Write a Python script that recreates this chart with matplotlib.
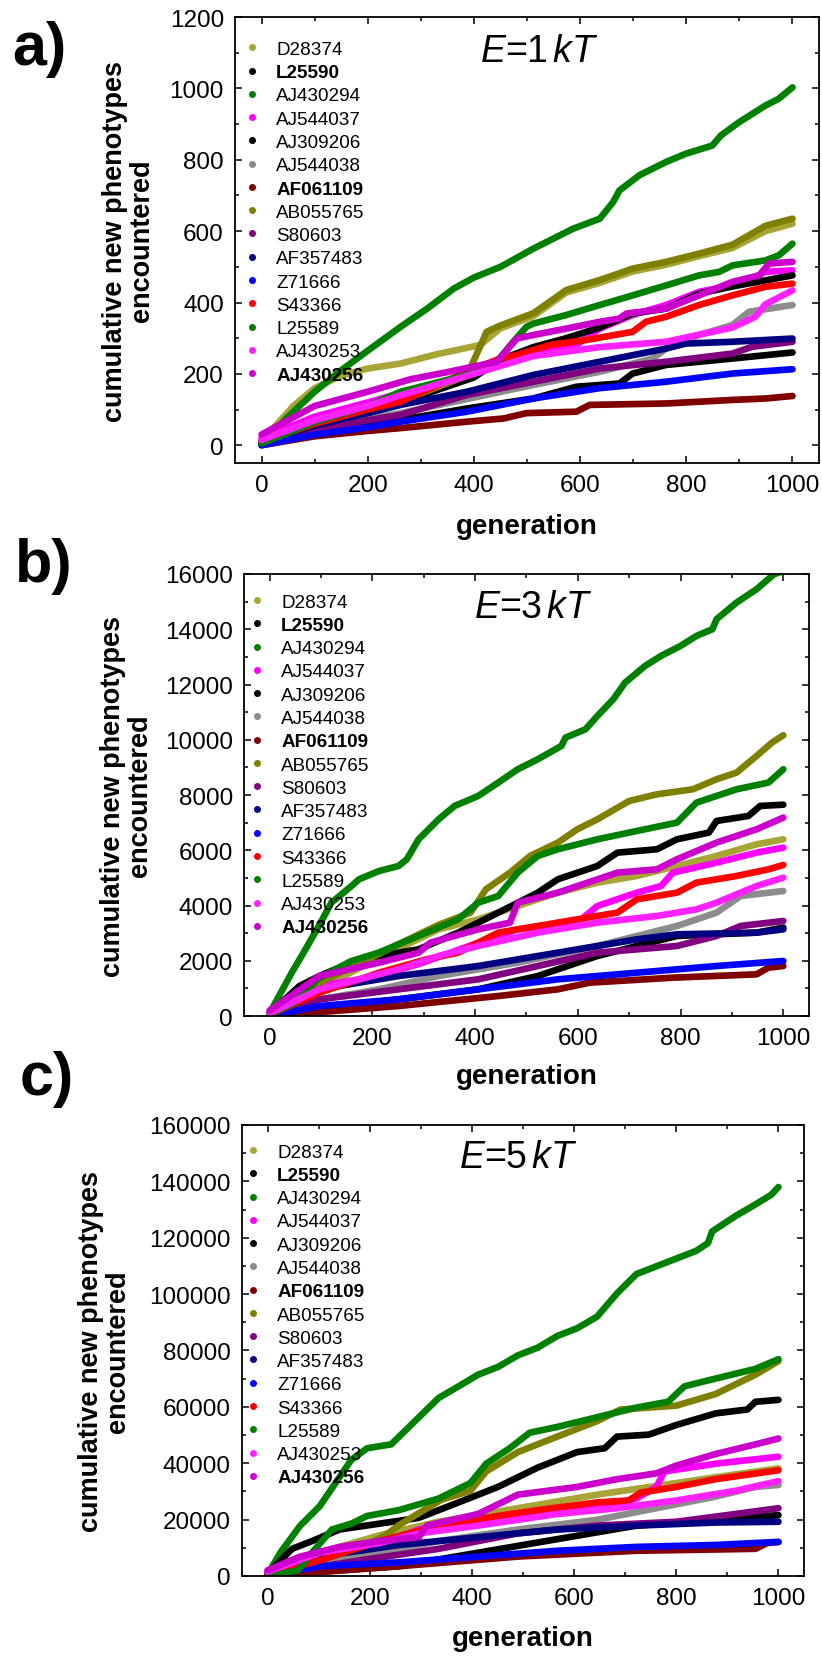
import matplotlib
matplotlib.use('Agg')
import matplotlib.pyplot as plt
from matplotlib.lines import Line2D
from matplotlib.ticker import MultipleLocator

plt.rcParams['font.family'] = ['Liberation Sans', 'DejaVu Sans']
plt.rcParams['mathtext.fontset'] = 'custom'
plt.rcParams['mathtext.rm'] = 'Liberation Sans'
plt.rcParams['mathtext.it'] = 'Liberation Sans:italic'

strains = ['D28374', 'L25590', 'AJ430294', 'AJ544037', 'AJ309206', 'AJ544038', 'AF061109',
           'AB055765', 'S80603', 'AF357483', 'Z71666', 'S43366', 'L25589', 'AJ430253', 'AJ430256']
colors = ['#a8a536', '#000000', '#008000', '#ff00ff', '#000000', '#8c8c8c', '#800000',
          '#808000', '#800080', '#000080', '#0000ff', '#ff0000', '#008000', '#ff22ff', '#cc00cc']
bold_strains = ['L25590', 'AF061109', 'AJ430256']

# (generation, cumulative new phenotypes), E = 1 kT
panel_a = {
    'D28374': [(0, 15), (30, 60), (60, 110), (100, 160), (150, 195), (200, 215), (262, 229), (330, 255),
               (412, 281), (449, 327), (512, 362), (574, 428), (637, 455), (699, 487), (762, 506),
               (824, 530), (887, 553), (949, 600), (1000, 621)],
    'L25590': [(0, 5), (100, 30), (200, 55), (262, 71), (387, 103), (512, 131), (593, 164), (674, 173),
               (699, 201), (762, 225), (887, 243), (1000, 260)],
    'AJ430294': [(0, 5), (50, 80), (100, 150), (150, 210), (200, 265), (262, 332), (312, 383), (362, 439),
                 (400, 470), (450, 500), (512, 551), (587, 607), (637, 635), (662, 681), (674, 714),
                 (712, 757), (762, 794), (799, 817), (849, 840), (865, 868), (899, 905), (949, 952),
                 (974, 971), (1000, 1003)],
    'AJ544037': [(0, 20), (100, 80), (200, 120), (262, 146), (387, 197), (449, 225), (512, 262), (574, 271),
                 (593, 281), (637, 327), (699, 365), (762, 393), (824, 430), (887, 448), (924, 467),
                 (949, 486), (1000, 490)],
    'AJ309206': [(0, 10), (100, 60), (200, 95), (262, 120), (400, 190), (450, 240), (512, 275), (574, 300),
                 (637, 330), (699, 369), (762, 383), (824, 425), (887, 445), (949, 462), (1000, 476)],
    'AJ544038': [(0, 5), (100, 45), (200, 75), (262, 90), (512, 169), (637, 206), (737, 243), (762, 271),
                 (824, 309), (887, 337), (918, 374), (1000, 393)],
    'AF061109': [(0, 0), (100, 25), (200, 40), (262, 48), (387, 66), (456, 75), (499, 90), (593, 94),
                 (618, 113), (762, 117), (887, 127), (949, 131), (1000, 138)],
    'AB055765': [(0, 10), (100, 70), (200, 110), (300, 145), (387, 195), (424, 318), (449, 335), (512, 370),
                 (574, 435), (637, 463), (699, 495), (762, 514), (824, 537), (887, 562), (949, 615),
                 (1000, 635)],
    'S80603': [(0, 5), (100, 40), (200, 70), (262, 85), (387, 141), (512, 178), (637, 215), (762, 234),
               (887, 257), (924, 276), (1000, 290)],
    'AF357483': [(0, 10), (100, 55), (200, 90), (262, 113), (387, 150), (512, 197), (637, 234), (762, 271),
                 (799, 285), (887, 290), (1000, 299)],
    'Z71666': [(0, 0), (100, 30), (200, 50), (262, 66), (387, 94), (512, 131), (637, 160), (762, 178),
               (887, 201), (1000, 213)],
    'S43366': [(0, 10), (100, 60), (200, 100), (262, 122), (387, 206), (449, 243), (481, 253), (543, 281),
               (612, 295), (699, 318), (724, 346), (762, 360), (824, 393), (887, 420), (949, 444),
               (1000, 453)],
    'L25589': [(0, 5), (50, 35), (100, 65), (200, 110), (262, 150), (387, 197), (443, 234), (474, 290),
               (499, 332), (512, 341), (574, 365), (637, 393), (699, 420), (762, 448), (824, 476),
               (862, 486), (887, 504), (949, 518), (974, 532), (1000, 565)],
    'AJ430253': [(0, 15), (100, 70), (200, 110), (262, 140), (400, 200), (512, 250), (637, 275), (762, 290),
                 (887, 330), (930, 360), (949, 395), (1000, 434)],
    'AJ430256': [(0, 30), (100, 110), (200, 150), (281, 185), (350, 205), (443, 234), (481, 299), (512, 309),
                 (574, 327), (637, 346), (674, 355), (687, 369), (762, 383), (824, 420), (887, 458),
                 (937, 476), (956, 509), (1000, 514)],
}

# E = 3 kT
panel_b = {
    'D28374': [(0, 100), (97, 1000), (213, 2100), (329, 3138), (406, 3500), (483, 3983), (561, 4466),
               (638, 4828), (715, 5069), (793, 5431), (870, 5794), (948, 6216), (1000, 6397)],
    'L25590': [(0, 50), (251, 604), (406, 966), (522, 1448), (638, 2173), (715, 2535), (793, 2897),
               (948, 3018), (1000, 3200)],
    'AJ430294': [(0, 100), (4, 241), (43, 1569), (66, 2293), (97, 3300), (120, 4100), (159, 4700),
                 (174, 4949), (213, 5250), (251, 5431), (267, 5673), (290, 6397), (329, 7121), (360, 7604),
                 (406, 7966), (445, 8449), (483, 8932), (522, 9294), (568, 9777), (576, 10078),
                 (615, 10380), (638, 10863), (669, 11466), (692, 12070), (731, 12674), (762, 13036),
                 (800, 13398), (831, 13760), (862, 14001), (870, 14363), (909, 14967), (948, 15450),
                 (982, 15994), (1000, 16100)],
    'AJ544037': [(0, 150), (97, 1086), (213, 1448), (298, 1931), (406, 2655), (483, 3138), (599, 3380),
                 (638, 3983), (715, 4466), (762, 4707), (785, 5190), (870, 5552), (948, 5914),
                 (1000, 6095)],
    'AJ309206': [(0, 100), (58, 1086), (97, 1448), (174, 2052), (290, 2414), (367, 3018), (445, 3742),
                 (522, 4466), (561, 4949), (638, 5431), (677, 5914), (754, 6035), (793, 6397), (855, 6639),
                 (870, 7061), (932, 7242), (955, 7604), (1000, 7650)],
    'AJ544038': [(0, 50), (97, 604), (213, 966), (329, 1448), (483, 1931), (638, 2535), (715, 2897),
                 (793, 3259), (870, 3742), (917, 4345), (1000, 4526)],
    'AF061109': [(0, 0), (251, 362), (445, 724), (561, 966), (623, 1207), (785, 1388), (948, 1509),
                 (971, 1750), (1000, 1810)],
    'AB055765': [(0, 120), (97, 1200), (174, 1900), (251, 2600), (329, 3300), (391, 3742), (421, 4587),
                 (468, 5190), (507, 5794), (561, 6277), (599, 6760), (638, 7121), (700, 7785), (754, 8026),
                 (824, 8208), (870, 8570), (909, 8811), (948, 9415), (978, 9898), (1000, 10163)],
    'S80603': [(0, 50), (97, 604), (251, 966), (406, 1328), (522, 1810), (638, 2293), (793, 2535),
               (870, 2897), (917, 3259), (1000, 3440)],
    'AF357483': [(0, 50), (97, 966), (251, 1448), (406, 1810), (561, 2293), (715, 2776), (793, 2957),
                 (948, 3018), (1000, 3138)],
    'Z71666': [(0, 0), (97, 362), (251, 604), (406, 966), (561, 1328), (715, 1569), (870, 1810),
               (1000, 1992)],
    'S43366': [(0, 50), (97, 845), (213, 1569), (305, 2052), (367, 2293), (445, 3018), (522, 3259),
               (599, 3500), (677, 3742), (715, 4225), (793, 4466), (831, 4828), (909, 5069), (971, 5310),
               (1000, 5467)],
    'L25589': [(0, 50), (50, 500), (92, 1321), (157, 1976), (213, 2300), (290, 2900), (367, 3500),
               (406, 4104), (445, 4345), (483, 5190), (522, 5794), (561, 6035), (638, 6397), (715, 6699),
               (793, 7001), (831, 7725), (909, 8208), (971, 8449), (1000, 8932)],
    'AJ430253': [(0, 100), (97, 966), (251, 1690), (329, 2173), (406, 2535), (522, 3018), (638, 3380),
                 (754, 3621), (831, 3862), (870, 4104), (948, 4707), (1000, 5009)],
    'AJ430256': [(0, 200), (97, 1448), (213, 1931), (290, 2293), (313, 2655), (406, 3138), (468, 3380),
                 (483, 4104), (561, 4466), (677, 5190), (754, 5310), (793, 5673), (870, 6277), (948, 6760),
                 (1000, 7182)],
}

# E = 5 kT
panel_c = {
    'D28374': [(0, 1000), (102, 8238), (219, 14416), (335, 19222), (490, 24027), (645, 28833), (722, 30892),
               (800, 32952), (877, 35011), (1000, 38169)],
    'L25590': [(0, 300), (257, 3432), (412, 8238), (567, 13043), (722, 17849), (877, 19908), (1000, 21556)],
    'AJ430294': [(0, 500), (25, 8238), (64, 17849), (102, 24714), (133, 32952), (164, 41190), (195, 45309),
                 (242, 46682), (273, 52174), (304, 57666), (335, 63158), (374, 67277), (412, 71396),
                 (451, 74142), (490, 78261), (529, 81007), (567, 85126), (606, 87872), (645, 91991),
                 (684, 100229), (722, 107094), (761, 109840), (800, 112586), (839, 115332), (862, 118078),
                 (870, 122197), (916, 127689), (955, 131808), (986, 135240), (1000, 137987)],
    'AJ544037': [(0, 1500), (102, 6865), (219, 10984), (296, 16476), (412, 19908), (529, 22654),
                 (645, 24027), (722, 27460), (761, 31579), (777, 37071), (877, 39817), (1000, 42288)],
    'AJ309206': [(0, 700), (48, 9611), (87, 12357), (141, 16476), (219, 18535), (296, 20595), (374, 26087),
                 (451, 31579), (529, 38444), (606, 43936), (660, 45309), (684, 49428), (746, 50114),
                 (800, 53547), (877, 57666), (939, 59039), (955, 61785), (1000, 62472)],
    'AJ544038': [(0, 500), (180, 6865), (335, 12357), (490, 16476), (645, 19908), (800, 25400), (877, 28146),
                 (955, 31579), (1000, 32265)],
    'AF061109': [(0, 0), (257, 3432), (490, 6865), (722, 8924), (955, 9611), (978, 11670), (1000, 12000)],
    'AB055765': [(0, 700), (102, 6000), (180, 10000), (229, 14140), (257, 18000), (340, 27000),
                 (397, 30206), (428, 37071), (490, 43936), (567, 49428), (645, 54920), (691, 59039),
                 (800, 60412), (877, 64531), (955, 71396), (1000, 76201)],
    'S80603': [(0, 300), (180, 5492), (335, 9611), (490, 15103), (645, 17849), (800, 19222), (916, 21968),
               (1000, 24027)],
    'AF357483': [(0, 500), (102, 6865), (257, 10984), (412, 13730), (567, 16476), (722, 17849), (877, 18948),
                 (1000, 19222)],
    'Z71666': [(0, 0), (102, 3432), (257, 4806), (412, 6865), (567, 8924), (722, 10298), (877, 10984),
               (1000, 12082)],
    'S43366': [(0, 500), (102, 5492), (219, 12357), (335, 17849), (451, 21281), (529, 23341), (645, 26087),
               (707, 26774), (730, 29520), (800, 31579), (877, 34325), (1000, 37482)],
    'L25589': [(0, 0), (60, 2000), (87, 8238), (126, 16476), (164, 18535), (195, 21281), (257, 23341),
               (335, 27460), (397, 32952), (428, 39817), (474, 45309), (513, 50801), (567, 52860),
               (645, 56293), (722, 59725), (784, 61785), (816, 67277), (877, 70023), (955, 73455),
               (1000, 76888)],
    'AJ430253': [(0, 1500), (102, 8238), (219, 11670), (296, 15103), (412, 17849), (567, 21968),
                 (684, 24027), (800, 26774), (916, 30206), (1000, 33638)],
    'AJ430256': [(0, 2000), (64, 6865), (141, 10298), (219, 12357), (296, 13730), (312, 17849), (412, 21968),
                 (490, 28833), (606, 31579), (684, 34325), (761, 36385), (800, 39131), (877, 43250),
                 (955, 46682), (1000, 48742)],
}


def draw_panel(ax, curves, ylim, ymajor, energy_label, energy_pos, legend_anchor, ylabel_x, xlabel_y):
    for name, color in zip(strains, colors):
        g = [p[0] for p in curves[name]]
        v = [p[1] for p in curves[name]]
        ax.plot(g, v, color=color, lw=4.8, solid_capstyle='round', solid_joinstyle='round')

    ax.set_xlim(-50, 1050)
    ax.set_ylim(*ylim)
    ax.xaxis.set_major_locator(MultipleLocator(200))
    ax.xaxis.set_minor_locator(MultipleLocator(100))
    ax.yaxis.set_major_locator(MultipleLocator(ymajor))
    ax.yaxis.set_minor_locator(MultipleLocator(ymajor / 2))
    ax.tick_params(which='both', direction='in', top=True, right=True, width=1.1)
    ax.tick_params(which='major', length=5, labelsize=17.5, pad=8)
    ax.tick_params(which='minor', length=3)
    for spine in ax.spines.values():
        spine.set_linewidth(1.3)

    ax.set_xlabel('generation', fontsize=20, fontweight='bold')
    ax.set_ylabel('cumulative new phenotypes\nencountered', fontsize=19.5, fontweight='bold',
                  linespacing=1.05)
    ax.xaxis.set_label_coords(0.5, xlabel_y)
    ax.yaxis.set_label_coords(ylabel_x, 0.5)

    ax.text(energy_pos[0], energy_pos[1], energy_label, transform=ax.transAxes, fontsize=27,
            ha='center', va='center')

    handles = [Line2D([], [], marker='o', ms=4, color=c, ls='none') for c in colors]
    lgd = ax.legend(handles, strains, loc='upper left', bbox_to_anchor=legend_anchor, frameon=False,
                    fontsize=13.6, borderpad=0, borderaxespad=0, handlelength=0.7, handletextpad=0.92,
                    labelspacing=0.32)
    for text in lgd.get_texts():
        if text.get_text() in bold_strains:
            text.set_fontweight('bold')


fig = plt.figure(figsize=(8.22, 16.58), dpi=100)
ax_a = fig.add_axes([0.2859, 0.7201, 0.7105, 0.2690])
ax_b = fig.add_axes([0.2968, 0.3866, 0.6874, 0.2666])
ax_c = fig.add_axes([0.2944, 0.0489, 0.6837, 0.2720])

draw_panel(ax_a, panel_a, (-50, 1200), 200, r'$E$=1$\,kT$', (0.522, 0.924), (0.018, 0.947), -0.137, -0.112)
draw_panel(ax_b, panel_b, (0, 16000), 2000, r'$E$=3$\,kT$', (0.513, 0.925), (0.0115, 0.956), -0.161, -0.106)
draw_panel(ax_c, panel_c, (0, 160000), 20000, r'$E$=5$\,kT$', (0.491, 0.928), (0.008, 0.959), -0.198, -0.109)

for label, x, y in [('a)', 12, 65), ('b)', 15, 582), ('c)', 20, 1095)]:
    fig.text(x / 822, 1 - y / 1658, label, fontsize=44, fontweight='bold', ha='left', va='baseline')

fig.savefig('out.png', dpi=100)
